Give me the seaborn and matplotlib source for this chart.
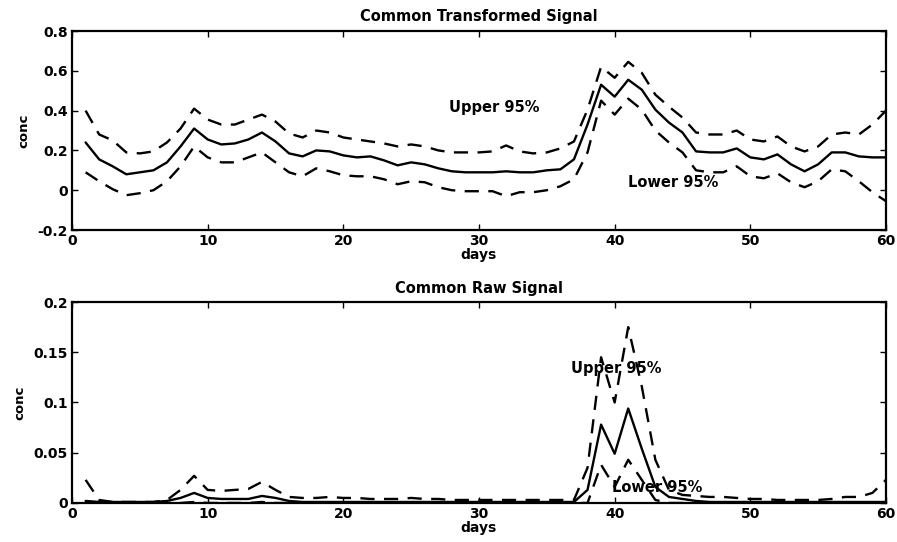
import numpy as np
import pandas as pd
import matplotlib
matplotlib.use("Agg")
import matplotlib.pyplot as plt
import seaborn as sns

days = list(range(1, 61))

trans_mean = [0.24, 0.155, 0.12, 0.08, 0.09, 0.10, 0.14, 0.22, 0.31, 0.255,
              0.23, 0.235, 0.255, 0.29, 0.245, 0.185, 0.17, 0.20, 0.195, 0.175,
              0.165, 0.17, 0.15, 0.125, 0.14, 0.13, 0.11, 0.095, 0.09, 0.09,
              0.09, 0.095, 0.09, 0.09, 0.10, 0.105, 0.155, 0.33, 0.53, 0.47,
              0.555, 0.505, 0.405, 0.34, 0.29, 0.195, 0.19, 0.19, 0.21, 0.165,
              0.155, 0.18, 0.13, 0.095, 0.13, 0.19, 0.19, 0.17, 0.165, 0.165]
trans_upper = [0.40, 0.28, 0.25, 0.19, 0.185, 0.195, 0.24, 0.31, 0.41, 0.355,
               0.33, 0.33, 0.355, 0.38, 0.345, 0.285, 0.265, 0.30, 0.29, 0.265,
               0.255, 0.245, 0.235, 0.22, 0.23, 0.22, 0.20, 0.19, 0.19, 0.19,
               0.195, 0.225, 0.195, 0.185, 0.19, 0.21, 0.245, 0.405, 0.62, 0.565,
               0.645, 0.59, 0.48, 0.42, 0.365, 0.29, 0.28, 0.28, 0.30, 0.255,
               0.245, 0.27, 0.22, 0.195, 0.22, 0.28, 0.29, 0.28, 0.33, 0.40]
trans_lower = [0.09, 0.045, 0.005, -0.025, -0.015, 0.0, 0.045, 0.12, 0.22, 0.165,
               0.14, 0.14, 0.165, 0.19, 0.14, 0.09, 0.07, 0.11, 0.095, 0.075,
               0.07, 0.07, 0.055, 0.03, 0.045, 0.04, 0.015, 0.0, -0.005, -0.005,
               -0.005, -0.03, -0.01, -0.01, 0.0, 0.02, 0.055, 0.19, 0.45, 0.38,
               0.46, 0.405, 0.30, 0.24, 0.19, 0.10, 0.09, 0.09, 0.12, 0.07,
               0.06, 0.085, 0.04, 0.015, 0.045, 0.105, 0.095, 0.045, -0.01, -0.055]

raw_mean = [0.002, 0.001, 0.001, 0.001, 0.001, 0.001, 0.002, 0.005, 0.010, 0.005,
            0.004, 0.004, 0.004, 0.007, 0.005, 0.002, 0.001, 0.001, 0.001, 0.001,
            0.001, 0.001, 0.001, 0.001, 0.001, 0.001, 0.001, 0.001, 0.001, 0.001,
            0.001, 0.001, 0.001, 0.001, 0.001, 0.001, 0.001, 0.013, 0.078, 0.049,
            0.094, 0.054, 0.016, 0.006, 0.004, 0.002, 0.001, 0.001, 0.001, 0.001,
            0.001, 0.001, 0.001, 0.001, 0.001, 0.001, 0.001, 0.001, 0.001, 0.001]
raw_upper = [0.023, 0.003, 0.001, 0.001, 0.001, 0.001, 0.003, 0.013, 0.027, 0.013,
             0.012, 0.013, 0.014, 0.021, 0.013, 0.006, 0.005, 0.005, 0.006, 0.005,
             0.005, 0.004, 0.004, 0.004, 0.005, 0.004, 0.004, 0.003, 0.003, 0.003,
             0.003, 0.003, 0.003, 0.003, 0.003, 0.003, 0.003, 0.035, 0.145, 0.10,
             0.175, 0.116, 0.043, 0.013, 0.008, 0.007, 0.006, 0.006, 0.005, 0.004,
             0.004, 0.003, 0.003, 0.003, 0.003, 0.004, 0.006, 0.006, 0.010, 0.023]
raw_lower = [0.0, 0.0, 0.0, 0.0, 0.0, 0.0, 0.0, 0.0, 0.001, 0.0,
             0.0, 0.0, 0.0, 0.001, 0.0, 0.0, 0.0, 0.0, 0.0, 0.0,
             0.0, 0.0, 0.0, 0.0, 0.0, 0.0, 0.0, 0.0, 0.0, 0.0,
             0.0, 0.0, 0.0, 0.0, 0.0, 0.0, 0.0, 0.0, 0.038, 0.016,
             0.043, 0.023, 0.003, 0.0, 0.0, 0.0, 0.0, 0.0, 0.0, 0.0,
             0.0, 0.0, 0.0, 0.0, 0.0, 0.0, 0.0, 0.0, 0.0, 0.0]

sns.set_theme(style="ticks")
plt.rcParams["font.family"] = ["DejaVu Sans"]
plt.rcParams["font.weight"] = "bold"
for k in ["text.color", "axes.labelcolor", "xtick.color", "ytick.color", "axes.edgecolor"]:
    plt.rcParams[k] = "black"

fig = plt.figure(figsize=(8.97, 5.42), dpi=100)
ax1 = fig.add_axes([0.0803, 0.5756, 0.9074, 0.3672])
ax2 = fig.add_axes([0.0803, 0.0720, 0.9074, 0.3708])

def draw(ax, mean, upper, lower):
    df = pd.DataFrame({"days": days, "mean": mean, "upper": upper, "lower": lower})
    sns.lineplot(data=df, x="days", y="mean", ax=ax, color="black", linewidth=1.7)
    for col in ["upper", "lower"]:
        sns.lineplot(data=df, x="days", y=col, ax=ax, color="black", linewidth=1.7,
                     linestyle=(0, (6, 4)))
    ax.set_xlim(0, 60)
    ax.set_xticks([0, 10, 20, 30, 40, 50, 60])
    ax.tick_params(direction="in", top=True, right=True, length=4, width=1,
                   labelsize=10, pad=3)
    for lab in ax.get_xticklabels() + ax.get_yticklabels():
        lab.set_fontweight("bold")
    for s in ax.spines.values():
        s.set_linewidth(1.6)
        s.set_visible(True)
    ax.set_xlabel("days", fontsize=10, fontweight="bold", labelpad=0)
    ax.set_ylabel("conc", fontsize=9.5, fontweight="bold", labelpad=5)

draw(ax1, trans_mean, trans_upper, trans_lower)
ax1.set_ylim(-0.2, 0.8)
ax1.set_yticks([-0.2, 0, 0.2, 0.4, 0.6, 0.8])
ax1.set_yticklabels(["-0.2", "0", "0.2", "0.4", "0.6", "0.8"], fontweight="bold")
ax1.set_title("Common Transformed Signal", fontsize=10.5, fontweight="bold", pad=7)
ax1.text(31.1, 0.415, "Upper 95%", fontsize=10.5, fontweight="bold", ha="center", va="center")
ax1.text(44.3, 0.04, "Lower 95%", fontsize=10.5, fontweight="bold", ha="center", va="center")

draw(ax2, raw_mean, raw_upper, raw_lower)
ax2.set_ylim(0, 0.2)
ax2.set_yticks([0, 0.05, 0.1, 0.15, 0.2])
ax2.set_yticklabels(["0", "0.05", "0.1", "0.15", "0.2"], fontweight="bold")
ax2.set_title("Common Raw Signal", fontsize=10.5, fontweight="bold", pad=6.5)
ax2.text(40.1, 0.134, "Upper 95%", fontsize=10.5, fontweight="bold", ha="center", va="center")
ax2.text(43.1, 0.015, "Lower 95%", fontsize=10.5, fontweight="bold", ha="center", va="center")

fig.savefig("out.png", dpi=100)
